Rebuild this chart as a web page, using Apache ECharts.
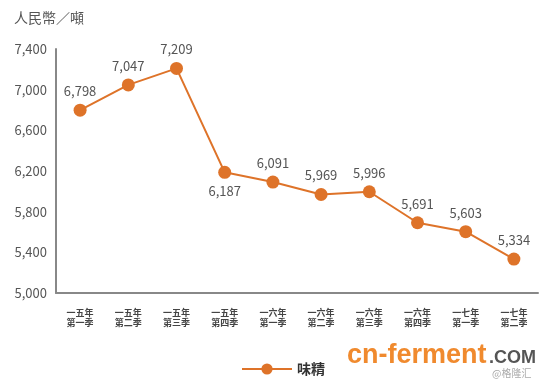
<!DOCTYPE html>
<html><head><meta charset="utf-8">
<script src="https://cdn.jsdelivr.net/npm/echarts@6/dist/echarts.min.js"></script>
<style>html,body{margin:0;padding:0;background:#fff}#c{width:553px;height:382px}</style>
</head><body><div id="c"></div>
<script>
const categories = ['一五年\n第一季','一五年\n第二季','一五年\n第三季','一五年\n第四季','一六年\n第一季','一六年\n第二季','一六年\n第三季','一六年\n第四季','一七年\n第一季','一七年\n第二季'];
const values = [6798, 7047, 7209, 6187, 6091, 5969, 5996, 5691, 5603, 5334];
const belowIdx = [3];
const seriesName = '味精';
const unitLabel = '人民幣／噸';

const chart = echarts.init(document.getElementById('c'));
const orange = '#DE7329';
chart.setOption({
  animation: false,
  backgroundColor: '#fff',
  textStyle: { fontFamily: '"Noto Sans CJK TC", "Open Sans", sans-serif' },
  grid: { left: 56, right: 15, top: 49, bottom: 89 },
  graphic: [
    { type: 'text', left: 14, top: 11, style: { text: unitLabel, fill: '#555', font: '14px "Noto Sans CJK TC"' } },
    { type: 'text', left: 347, top: 342, style: { text: 'cn-ferment', fill: '#F08A2E', font: 'bold 27px "Liberation Sans", sans-serif' } },
    { type: 'text', left: 489, top: 349, style: { text: '.COM', fill: '#555', font: 'bold 18px "Liberation Sans", sans-serif' } },
    { type: 'text', left: 492, top: 368, style: { text: '@格隆汇', fill: '#aaa', font: '10px "Noto Sans CJK SC"' } }
  ],
  legend: {
    left: 236, top: 357, itemWidth: 50, itemHeight: 14, itemGap: 8,
    textStyle: { fontSize: 14, fontWeight: 'bold', color: '#333' },
    data: [seriesName]
  },
  xAxis: {
    type: 'category', data: categories, boundaryGap: true,
    axisLine: { lineStyle: { color: '#888', width: 2 } },
    axisTick: { show: false },
    axisLabel: { interval: 0, fontSize: 9, lineHeight: 10, color: '#444', fontWeight: 'bold', margin: 15 }
  },
  yAxis: {
    type: 'value', min: 5000, max: 7400, interval: 400,
    axisLine: { show: true, lineStyle: { color: '#888', width: 2 } },
    axisTick: { show: false },
    splitLine: { show: false },
    axisLabel: { fontSize: 13, color: '#555', margin: 9, formatter: v => v.toLocaleString('en-US') }
  },
  series: [{
    name: seriesName, type: 'line', data: values.map((v, i) => ({
      value: v,
      label: { position: belowIdx.includes(i) ? 'bottom' : 'top' }
    })),
    symbol: 'circle', symbolSize: 13,
    itemStyle: { color: orange },
    lineStyle: { color: orange, width: 2 },
    label: { show: true, fontSize: 13, color: '#555', distance: 6, formatter: p => p.value.toLocaleString('en-US') }
  }]
});
</script></body></html>
